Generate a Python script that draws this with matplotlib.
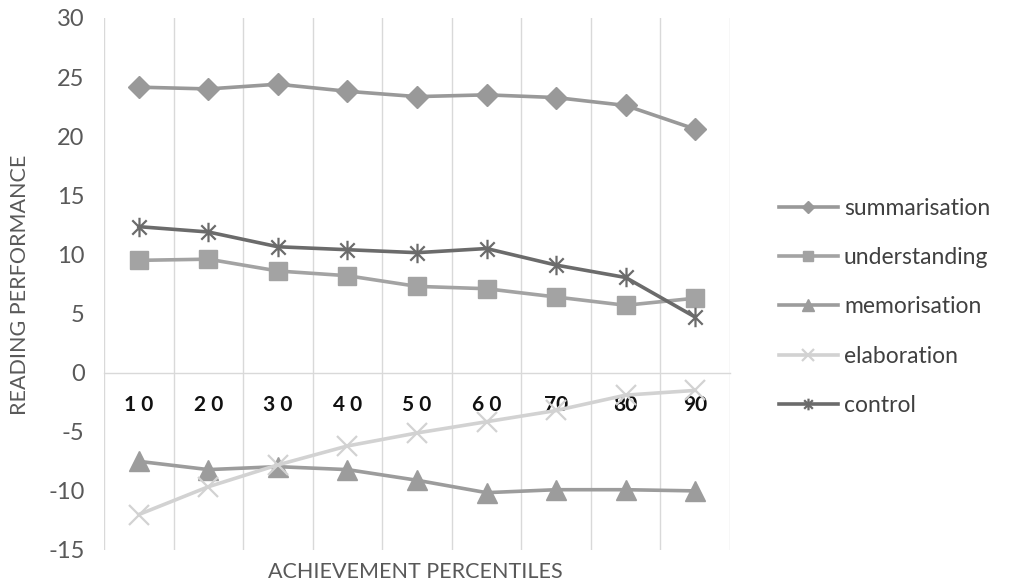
import matplotlib
matplotlib.use("Agg")
import matplotlib.pyplot as plt
from matplotlib.path import Path
import numpy as np

categories = ["10", "20", "30", "40", "50", "60", "70", "80", "90"]
summarisation = [24.15, 24.0, 24.4, 23.8, 23.35, 23.5, 23.27, 22.6, 20.6]
understanding = [9.5, 9.6, 8.6, 8.2, 7.3, 7.1, 6.4, 5.7, 6.3]
memorisation = [-7.5, -8.2, -7.95, -8.2, -9.1, -10.15, -9.9, -9.9, -10.0]
elaboration = [-12.0, -9.65, -7.8, -6.2, -5.1, -4.15, -3.2, -1.9, -1.5]
control = [12.35, 11.9, 10.65, 10.4, 10.15, 10.5, 9.1, 8.05, 4.7]

plt.rcParams['font.family'] = ['Lato', 'DejaVu Sans']
plt.rcParams['axes.unicode_minus'] = False

fig = plt.figure(figsize=(10.13, 5.86), dpi=100)
ax = fig.add_axes([104/1013, 1-550/586, (730-104)/1013, (550-18)/586])

x = np.arange(len(categories))

asterisk = Path([(-1, -1), (1, 1), (-1, 1), (1, -1), (0, -1.35), (0, 1.35)],
                [Path.MOVETO, Path.LINETO, Path.MOVETO, Path.LINETO, Path.MOVETO, Path.LINETO])

series = [
    ("summarisation", summarisation, "#999999", "D", 11, "#999999", 1),
    ("understanding", understanding, "#a3a3a3", "s", 13, "#a3a3a3", 1),
    ("memorisation", memorisation, "#9c9c9c", "^", 14, "#9c9c9c", 1),
    ("elaboration", elaboration, "#d2d2d2", "x", 14, "none", 1.6),
    ("control", control, "#6b6b6b", asterisk, 14, "none", 1.6),
]
for name, vals, col, mk, ms, fc, mew in series:
    ax.plot(x, vals, color=col, lw=2.6, marker=mk, markersize=ms,
            markerfacecolor=fc, markeredgecolor=col, markeredgewidth=mew,
            label=name, zorder=3)

ax.set_xlim(-0.5, len(categories) - 0.5)
ax.set_ylim(-15, 30)
ax.set_yticks(np.arange(-15, 31, 5))
for b in np.arange(-0.5, len(categories), 1.0):
    ax.axvline(b, color="#d9d9d9", lw=1, zorder=1)

for s in ["top", "right", "left"]:
    ax.spines[s].set_visible(False)
ax.spines["bottom"].set_position(("data", 0))
ax.spines["bottom"].set_color("#d9d9d9")
ax.spines["bottom"].set_linewidth(1)

shown = [" ".join(c) if i < 6 else c for i, c in enumerate(categories)]
ax.set_xticks(x)
ax.set_xticklabels(shown, fontsize=15, fontweight="bold", color="#111111")
ax.tick_params(axis="x", length=0, pad=16)
ax.tick_params(axis="y", length=0, labelsize=17, labelcolor="#595959", pad=14)

fig.text(20/1013, 1-285/586, "READING PERFORMANCE", rotation=90, va="center", ha="center",
         fontsize=15.5, color="#595959")
fig.text(415/1013, 1-572/586, "ACHIEVEMENT PERCENTILES", va="center", ha="center",
         fontsize=15.5, color="#595959")

leg = fig.legend(loc="upper left", bbox_to_anchor=(758/1013, 1-177/586), frameon=False,
                 fontsize=16.5, handlelength=2.6, labelspacing=1.24, handletextpad=0.25,
                 markerscale=0.6)
for t in leg.get_texts():
    t.set_color("#404040")

fig.savefig("out.png", dpi=100)
